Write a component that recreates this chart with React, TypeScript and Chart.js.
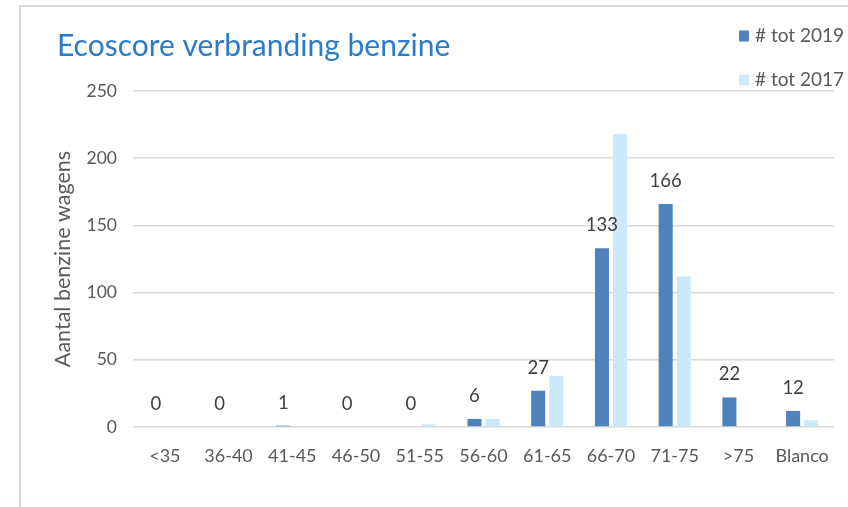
import React, { useEffect, useRef } from "react";
import { Chart, registerables } from "chart.js";

Chart.register(...registerables);

const categories = ["<35", "36-40", "41-45", "46-50", "51-55", "56-60", "61-65", "66-70", "71-75", ">75", "Blanco"];
const tot2019 = [0, 0, 1, 0, 0, 6, 27, 133, 166, 22, 12];
const tot2017 = [0, 0, 0, 0, 2, 6, 38, 218, 112, 0, 5];
const yTicks = [0, 50, 100, 150, 200, 250];
const titleText = "Ecoscore verbranding benzine";
const yAxisTitle = "Aantal benzine wagens";
const seriesNames = ["# tot 2019", "# tot 2017"];

const COLOR_2019 = "#4f81bd";
const COLOR_2017 = "#cbe9fb";
const FONT = "Lato, 'Open Sans', sans-serif";
const TEXT = "#595959";

const decorPlugin = {
  id: "decor",
  beforeDraw(chart: any) {
    const ctx = chart.ctx;
    ctx.save();
    ctx.strokeStyle = "#d9d9d9";
    ctx.lineWidth = 2;
    ctx.strokeRect(20, 6, 900, 600);
    ctx.restore();
  },
  afterDraw(chart: any) {
    const ctx = chart.ctx;
    ctx.save();
    // title
    ctx.fillStyle = "#2b7bca";
    ctx.font = `30px ${FONT}`;
    ctx.textBaseline = "middle";
    ctx.textAlign = "left";
    ctx.fillText(titleText, 57, 46);
    // legend
    const colors = [COLOR_2019, COLOR_2017];
    const ys = [36, 80];
    ctx.font = `19px ${FONT}`;
    seriesNames.forEach((n, i) => {
      ctx.fillStyle = colors[i];
      ctx.fillRect(739, ys[i] - 5.5, 10, 11);
      ctx.fillStyle = TEXT;
      ctx.fillText(n, 755, ys[i]);
    });
    // y axis title
    ctx.save();
    ctx.translate(63, 259);
    ctx.rotate(-Math.PI / 2);
    ctx.textAlign = "center";
    ctx.fillStyle = TEXT;
    ctx.font = `21.5px ${FONT}`;
    ctx.fillText(yAxisTitle, 0, 0);
    ctx.restore();
    // data labels for 2019
    const meta = chart.getDatasetMeta(0);
    ctx.fillStyle = "#404040";
    ctx.font = `18.5px ${FONT}`;
    ctx.textAlign = "center";
    meta.data.forEach((el: any, i: number) => {
      ctx.fillText(String(tot2019[i]), el.x, el.y - 23);
    });
    ctx.restore();
  },
};

export default function App() {
  const ref = useRef<HTMLCanvasElement>(null);
  useEffect(() => {
    if (!ref.current) return;
    const chart = new Chart(ref.current, {
      type: "bar",
      data: {
        labels: categories,
        datasets: [
          { label: seriesNames[0], data: tot2019, backgroundColor: COLOR_2019 },
          { label: seriesNames[1], data: tot2017, backgroundColor: COLOR_2017 },
        ],
      },
      options: {
        animation: false,
        responsive: false,
        layout: { padding: { top: 91, right: 14, left: 0, bottom: 0 } },
        datasets: { bar: { categoryPercentage: 0.566, barPercentage: 0.78 } },
        plugins: { legend: { display: false }, title: { display: false }, tooltip: { enabled: false } },
        scales: {
          x: {
            grid: { display: false },
            border: { display: false },
            ticks: { color: TEXT, font: { family: FONT, size: 18 }, padding: 10, maxRotation: 0 },
            afterFit(scale: any) {
              scale.height = 80;
            },
          },
          y: {
            min: 0,
            max: 250,
            afterBuildTicks(scale: any) {
              scale.ticks = yTicks.map((v) => ({ value: v }));
            },
            grid: { color: "#d9d9d9", lineWidth: 1.5, drawTicks: false },
            border: { display: false },
            ticks: { color: TEXT, font: { family: FONT, size: 17.5 }, padding: 16 },
            afterFit(scale: any) {
              scale.width = 133;
            },
          },
        },
      },
      plugins: [decorPlugin],
    });
    return () => chart.destroy();
  }, []);
  return (
    <div style={{ position: "fixed", left: 0, top: 0, width: 848, height: 507, background: "#fff" }}>
      <canvas ref={ref} width={848} height={507} style={{ width: 848, height: 507, display: "block" }} />
    </div>
  );
}
